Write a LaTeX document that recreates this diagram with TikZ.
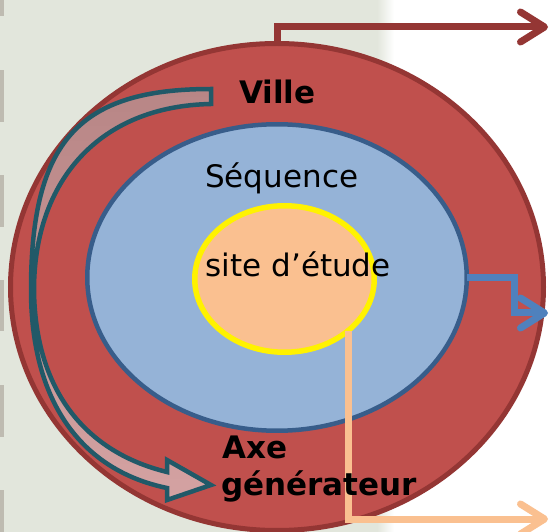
\documentclass[tikz,border=0pt]{standalone}
\usepackage{fontspec}
\setmainfont{DejaVu Sans}
\usetikzlibrary{arrows.meta,shapes.geometric}
\definecolor{bggrey}{RGB}{226,230,220}
\definecolor{markgrey}{RGB}{190,187,177}
\definecolor{redfill}{RGB}{192,80,77}
\definecolor{redline}{RGB}{148,54,52}
\definecolor{bluefill}{RGB}{149,179,215}
\definecolor{blueline}{RGB}{56,93,138}
\definecolor{bluearrow}{RGB}{79,129,189}
\definecolor{peach}{RGB}{250,192,144}
\definecolor{arrowteal}{RGB}{33,89,104}
\definecolor{pinktop}{RGB}{184,134,134}
\definecolor{pinkbot}{RGB}{212,162,162}
\begin{document}
\begin{tikzpicture}[x=1pt,y=-1pt,
  ring/.style={ellipse, inner sep=0pt, outer sep=0pt},
  lbl/.style={anchor=base west, inner sep=0pt, font=\fontsize{31}{38}\selectfont},
  lblb/.style={lbl, font=\bfseries\fontsize{31}{38}\selectfont},
  conn/.style={line width=7pt, -{Straight Barb[length=24pt,width=30pt,round]}},
]
\useasboundingbox (0,0) rectangle (550,532);
\fill[white] (0,0) rectangle (550,532);
\fill[bggrey] (0,0) rectangle (377,532);
\shade[left color=bggrey, right color=white] (377,0) rectangle (394,532);
\foreach \a/\b in {0/16,70/122,175/227,280/331,385/437,490/532}
  \fill[markgrey] (0,\a) rectangle (4,\b);

% outer ring
\node[ring, draw=redline, line width=5pt, fill=redfill,
      minimum width=533pt, minimum height=487pt] (ville) at (277,287) {};
\coordinate (redEnd) at (548,27);
\draw[conn, redline] (ville.north) |- (redEnd);

% curved arrow
\path[draw=arrowteal, line width=4.5pt, line join=miter,
      top color=pinktop, bottom color=pinkbot]
  (211,89) .. controls (80,89) and (31,140) .. (31,290)
  .. controls (31,400) and (80,470) .. (167,488)
  -- (167,500) -- (211,485) -- (167,460) -- (167,472)
  .. controls (85,452) and (35,390) .. (34,290)
  .. controls (34,180) and (100,106) .. (211,104) -- cycle;

% middle ring
\node[ring, draw=blueline, line width=4.5pt, fill=bluefill,
      minimum width=379.5pt, minimum height=306.5pt] (seq) at (277,277.5) {};
\coordinate (blueEnd) at (548,313);
\draw[conn, bluearrow] (seq.east) -- ++(48,0) |- (blueEnd);

% inner ring
\node[ring, draw=yellow, line width=5.5pt, fill=peach,
      minimum width=179.5pt, minimum height=146.5pt] (site) at (284.5,279) {};
\coordinate (peachEnd) at (548,519);
\draw[conn, peach] (site.-39) |- (peachEnd);

% labels
\node[lblb] (villeT) at (239,104) {Ville};
\node[lbl] (seqT) at (205,188) {Séquence};
\node[lbl] (siteT) at (205.5,277) {site d’étude};
\node[lblb] (axeT) at (222,458) {Axe};
\node[lblb] (genT) at (221,496) {générateur};
\end{tikzpicture}
\end{document}
